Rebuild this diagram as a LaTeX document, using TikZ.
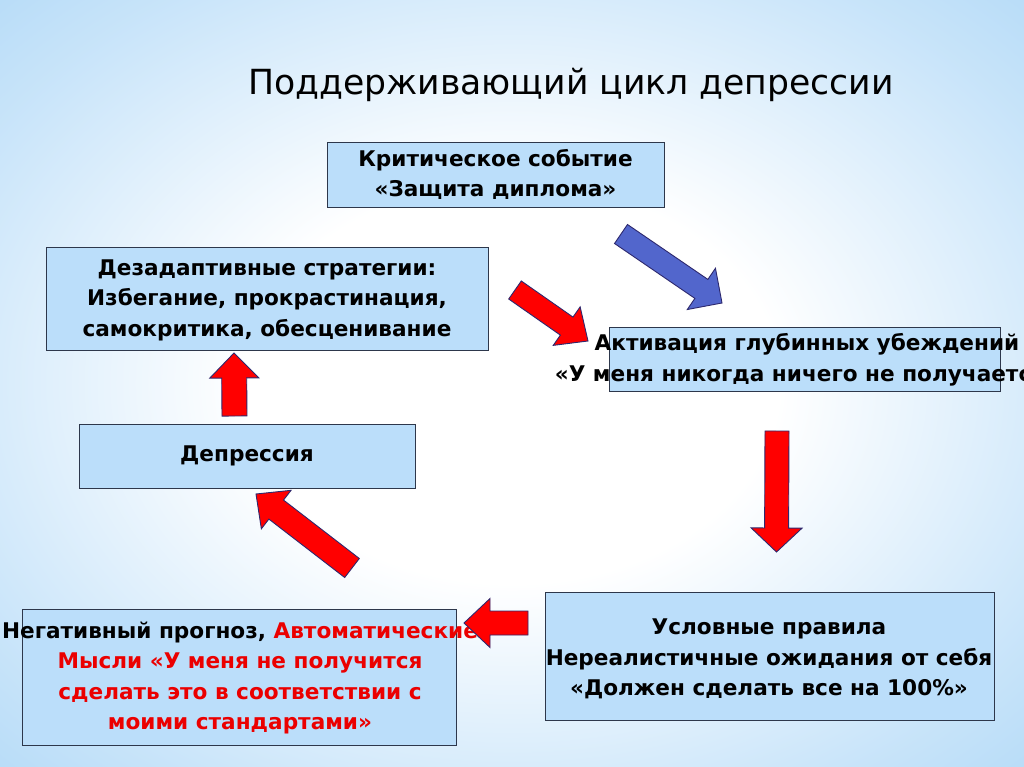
\documentclass[tikz,border=0pt]{standalone}
\usepackage{fontspec}
\setmainfont{DejaVu Sans}
\usetikzlibrary{calc}
\definecolor{bgblue}{RGB}{155,206,245}
\definecolor{boxfill}{RGB}{187,222,250}
\definecolor{boxline}{RGB}{45,55,75}
\definecolor{arrred}{RGB}{255,0,0}
\definecolor{arrblue}{RGB}{82,102,204}
\definecolor{arrline}{RGB}{45,40,110}
\definecolor{txtred}{RGB}{235,0,0}
\pgfdeclareradialshading{slidebg}{\pgfpoint{0bp}{0bp}}{%
  color(0bp)=(white); color(13bp)=(white); color(30bp)=(bgblue!55!white);
  color(46bp)=(bgblue); color(80bp)=(bgblue)}
\newcommand\blockarrow[7]{% style, name, tail, tip, shaft half, head half, head length
  \coordinate (#2-h) at ($(#4)!#7!(#3)$);
  \draw[#1] ($(#3)!#5!90:(#4)$) -- ($(#2-h)!#5!90:(#4)$) -- ($(#2-h)!#6!90:(#4)$)
    -- (#4) -- ($(#2-h)!#6!-90:(#4)$) -- ($(#2-h)!#5!-90:(#4)$)
    -- ($(#3)!#5!-90:(#4)$) -- cycle;}
\begin{document}
\begin{tikzpicture}[x=1pt,y=-1pt,
  box/.style={draw=boxline, line width=0.9pt, fill=boxfill, inner sep=0pt},
  txt/.style={font=\bfseries\fontsize{21.6}{30.5}\selectfont, align=center, inner sep=0pt},
  redarrow/.style={fill=arrred, draw=arrline, line width=0.9pt, line join=miter},
  bluearrow/.style={fill=arrblue, draw=arrline, line width=0.9pt, line join=miter}]
\clip (0,0) rectangle (1024,767);
\shade[shading=slidebg, shading angle=0] (0,0) rectangle (1024,767);
% title
\node[font=\fontsize{34.6}{40}\selectfont, inner sep=0pt] (title) at (571,85) {Поддерживающий цикл депрессии};
% boxes
\node[box, minimum width=337pt, minimum height=65pt] (crit) at (495.5,174.5) {};
\node[box, minimum width=442pt, minimum height=103pt] (desad) at (267,298.5) {};
\node[box, minimum width=391pt, minimum height=64pt] (activ) at (804.5,359) {};
\node[box, minimum width=336pt, minimum height=64pt] (depr) at (247,456) {};
\node[box, minimum width=434pt, minimum height=136pt] (neg) at (239,677) {};
\node[box, minimum width=449pt, minimum height=128pt] (rules) at (769.5,656) {};
% texts
\node[txt] (crit-t) at (crit.center) {Критическое событие\\«Защита диплома»};
\node[txt] (desad-t) at ($(desad.center)+(0,1.5)$) {Дезадаптивные стратегии:\\Избегание, прокрастинация,\\самокритика, обесценивание};
\node[txt] (activ-t) at (807,360) {Активация глубинных убеждений\\«У меня никогда ничего не получается»};
\node[txt] (depr-t) at (depr.center) {Депрессия};
\node[txt] (neg-t) at (240,678) {Негативный прогноз, \textcolor{txtred}{Автоматические}\\\color{txtred}Мысли «У меня не получится\\\color{txtred}сделать это в соответствии с\\\color{txtred}моими стандартами»};
\node[txt] (rules-t) at (769,659) {Условные правила\\Нереалистичные ожидания от себя\\«Должен сделать все на 100\%»};
% arrow end points
\coordinate (a1t) at (621,234); \coordinate (a1p) at (722,303);
\coordinate (a2t) at (515,290); \coordinate (a2p) at (588,341);
\coordinate (a3t) at (777,431); \coordinate (a3p) at (776.5,552);
\coordinate (a4t) at (528,623); \coordinate (a4p) at (464,623);
\coordinate (a5t) at (352,568); \coordinate (a5p) at (256,494);
\coordinate (a6t) at (234.5,416); \coordinate (a6p) at (234,353);
\blockarrow{bluearrow}{a1}{a1t}{a1p}{11.5pt}{25pt}{25pt}
\blockarrow{redarrow}{a2}{a2t}{a2p}{11pt}{23.5pt}{26pt}
\blockarrow{redarrow}{a3}{a3t}{a3p}{12pt}{25.5pt}{24pt}
\blockarrow{redarrow}{a4}{a4t}{a4p}{12pt}{24.5pt}{26pt}
\blockarrow{redarrow}{a5}{a5t}{a5p}{12pt}{24.3pt}{25.5pt}
\blockarrow{redarrow}{a6}{a6t}{a6p}{12.5pt}{24.5pt}{25pt}
\end{tikzpicture}
\end{document}
